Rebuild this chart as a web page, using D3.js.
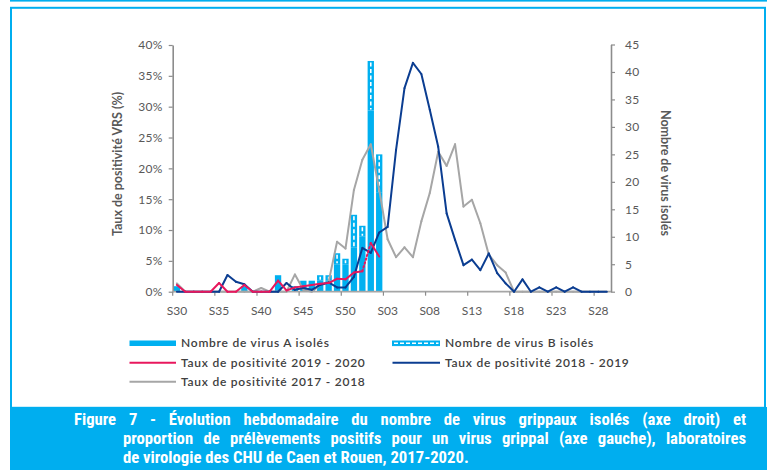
<!DOCTYPE html>
<html><head><meta charset="utf-8">
<script src="https://cdn.jsdelivr.net/npm/d3@7"></script>
<style>
html,body{margin:0;padding:0;background:#fff;}
svg{display:block;}
</style></head>
<body>
<svg id="c" width="767" height="470"></svg>
<script>
// ---- data ----
const weeks = ["S30","S31","S32","S33","S34","S35","S36","S37","S38","S39","S40","S41","S42","S43","S44","S45","S46","S47","S48","S49","S50","S51","S52",
"S01","S02","S03","S04","S05","S06","S07","S08","S09","S10","S11","S12","S13","S14","S15","S16","S17","S18","S19","S20","S21","S22","S23","S24","S25","S26","S27","S28","S29"];
const virusA = [1,0,0,0,0,0,0,0,1,0,0,0,3,0,0,2,2,2,2,5,5,8,10,33,18,
null,null,null,null,null,null,null,null,null,null,null,null,null,null,null,null,null,null,null,null,null,null,null,null,null,null,null];
const virusB = [0,0,0,0,0,0,0,0,0,0,0,0,0,0,1,0,0,1,1,2,1,6,2,9,7,
null,null,null,null,null,null,null,null,null,null,null,null,null,null,null,null,null,null,null,null,null,null,null,null,null,null,null];
const taux1920 = [1.1,0,0,0,0,1.4,0,0,1.1,0,0,0,1.8,0.2,0.7,0.9,1.1,1.3,1.4,2.1,2.0,3.1,3.3,7.9,5.7,
null,null,null,null,null,null,null,null,null,null,null,null,null,null,null,null,null,null,null,null,null,null,null,null,null,null,null];
const taux1819 = [0,0,0,0,0,0,2.7,1.6,1.2,0,0,0,0,1.4,0.3,0.6,0.3,1.1,1.5,0.7,0.7,2.4,7.1,6.3,9.6,10.5,23,33,37.1,35.3,29.5,23.5,12.7,8.4,4.3,5.2,3.5,6.2,3.0,1.35,0,2.0,0,0.7,0,0.7,0,0.7,0,0,0,0];
const taux1718 = [1.35,0,0,0,0,0,0,0,0,0,0.6,0,0,0,2.8,0.3,0,1.1,1.6,8.1,7.0,16.5,21.4,23.9,16.5,8.5,5.6,7.2,5.6,11.4,16.0,22.7,20.4,23.9,13.8,14.9,11.1,6.0,4.3,3.1,0,0,0,0,0,0,0,0,0,0,0,0];
const leftTicks = [0,5,10,15,20,25,30,35,40];
const rightTicks = [0,5,10,15,20,25,30,35,40,45];
const xLabelWeeks = ["S30","S35","S40","S45","S50","S03","S08","S13","S18","S23","S28"];
const legendLabels = ["Nombre de virus A isolés","Nombre de virus B isolés","Taux de positivité 2019 - 2020","Taux de positivité 2018 - 2019","Taux de positivité 2017 - 2018"];
const leftTitle = "Taux de positivité VRS (%)";
const rightTitle = "Nombre de virus isolés";
const captionLines = [
 "Figure 7 - Évolution hebdomadaire du nombre de virus grippaux isolés (axe droit) et",
 "proportion de prélèvements positifs pour un virus grippal (axe gauche), laboratoires",
 "de virologie des CHU de Caen et Rouen, 2017-2020."];

// ---- styles ----
const BLUE = "#00B0F0", FRAME = "#00AEEF", RED = "#E8175D", NAVY = "#0B3D91", GRAY = "#A6A6A6", AXIS = "#8C8C8C", TXT = "#595959";
const FONT = "Lato, 'Liberation Sans', Arial, sans-serif";

const svg = d3.select("#c");

// frame
svg.append("rect").attr("x",10).attr("y",0).attr("width",757).attr("height",1.6).attr("fill",FRAME);
svg.append("rect").attr("x",11).attr("y",7.8).attr("width",754).attr("height",400).attr("fill","none").attr("stroke",FRAME).attr("stroke-width",2);

// scales
const x0 = 172.7, x1 = 611, yBase = 291.7, yTop = 45;
const x = d3.scaleBand().domain(weeks).range([x0,x1]).paddingInner(0.25).paddingOuter(0.125);
const step = x.step();
const cx = w => x(w) + x.bandwidth()/2;
const yL = d3.scaleLinear().domain([0,40]).range([yBase,yTop]);
const yR = d3.scaleLinear().domain([0,45]).range([yBase,yTop-0.5]);

// bars
const g = svg.append("g");
weeks.forEach((w,i)=>{
  const a = virusA[i]||0, b = virusB[i]||0;
  if (a>0) g.append("rect").attr("x",x(w)).attr("y",yR(a)).attr("width",x.bandwidth()).attr("height",yR(0)-yR(a)).attr("fill",BLUE);
  if (b>0) {
    g.append("rect").attr("x",x(w)).attr("y",yR(a+b)).attr("width",x.bandwidth()).attr("height",yR(a)-yR(a+b)).attr("fill",BLUE);
    g.append("line").attr("x1",cx(w)).attr("x2",cx(w)).attr("y1",yR(a+b)+1.5).attr("y2",yR(a)-1)
      .attr("stroke","#fff").attr("stroke-width",1.6).attr("stroke-dasharray","4,2.5");
  }
});

// axes
const axL = svg.append("g").attr("transform",`translate(${x0},0)`)
  .call(d3.axisLeft(yL).tickValues(leftTicks).tickFormat(d=>d+"%").tickSize(4).tickSizeOuter(0).tickPadding(6));
const axR = svg.append("g").attr("transform",`translate(${x1},0)`)
  .call(d3.axisRight(yR).tickValues(rightTicks).tickSize(4).tickSizeOuter(0).tickPadding(10));
[axL,axR].forEach(a=>{
  a.select(".domain").attr("stroke",AXIS).attr("stroke-width",1.6);
  a.selectAll(".tick line").attr("stroke",AXIS).attr("stroke-width",1.2);
  a.selectAll("text").attr("fill",TXT).style("font-family",FONT).style("font-size","12px").style("letter-spacing","0.3px");
});
// x axis
svg.append("line").attr("x1",x0).attr("x2",x1).attr("y1",yBase).attr("y2",yBase).attr("stroke","#A6A6A6").attr("stroke-width",1.8);
const axX = svg.append("g").attr("transform",`translate(0,${yBase})`)
  .call(d3.axisBottom(x).tickValues(xLabelWeeks).tickSize(0).tickPadding(15));
axX.select(".domain").remove();
axX.selectAll("text").attr("fill",TXT).style("font-family",FONT).style("font-size","12px");
xLabelWeeks.forEach(w=>{
  const bx = x(w) - (step - x.bandwidth())/2;
  svg.append("line").attr("x1",bx).attr("x2",bx).attr("y1",yBase).attr("y2",yBase+4).attr("stroke",AXIS).attr("stroke-width",1.2);
});

// lines
function drawLine(vals,color,dashSeg){
  const pts = weeks.map((w,i)=>({x:cx(w),y:vals[i]}));
  for (let i=0;i<pts.length-1;i++){
    if (pts[i].y==null || pts[i+1].y==null) continue;
    svg.append("line").attr("x1",pts[i].x).attr("y1",yL(pts[i].y)).attr("x2",pts[i+1].x).attr("y2",yL(pts[i+1].y))
      .attr("stroke",color).attr("stroke-width",2).attr("stroke-linecap","round")
      .attr("stroke-dasharray", dashSeg===i ? "1.5,2.5" : null);
  }
}
drawLine(taux1718,GRAY);
drawLine(taux1819,NAVY);
drawLine(taux1920,RED, weeks.indexOf("S52"));

// axis titles
svg.append("text").attr("transform","translate(122,164) rotate(-90)").attr("text-anchor","middle")
  .attr("fill",TXT).style("font-family",FONT).style("font-size","12.5px").style("font-weight","bold").text(leftTitle);
svg.append("text").attr("transform","translate(661,173) rotate(90)").attr("text-anchor","middle")
  .attr("fill",TXT).style("font-family",FONT).style("font-size","12.5px").style("font-weight","bold").text(rightTitle);

// legend
const lg = svg.append("g");
const LTXT = "#404040";
function legText(tx,ty,s){ lg.append("text").attr("x",tx).attr("y",ty+4).attr("fill",LTXT).style("font-family",FONT).style("font-size","12px").style("font-weight","600").style("letter-spacing","0.75px").text(s); }
// A
lg.append("rect").attr("x",129.5).attr("y",340.5).attr("width",46.5).attr("height",5.5).attr("fill",BLUE);
legText(181,343.3,legendLabels[0]);
// B
lg.append("rect").attr("x",392.5).attr("y",341).attr("width",47).attr("height",4.6).attr("fill",BLUE).attr("stroke",BLUE).attr("stroke-width",1);
lg.append("line").attr("x1",394).attr("x2",438.5).attr("y1",343.3).attr("y2",343.3).attr("stroke","#fff").attr("stroke-width",1.6).attr("stroke-dasharray","4,2");
legText(445,343.3,legendLabels[1]);
// red
lg.append("line").attr("x1",129.5).attr("x2",176).attr("y1",362.7).attr("y2",362.7).attr("stroke",RED).attr("stroke-width",2);
legText(181,362.7,legendLabels[2]);
// navy
lg.append("line").attr("x1",392.5).attr("x2",440).attr("y1",362.7).attr("y2",362.7).attr("stroke",NAVY).attr("stroke-width",2);
legText(445,362.7,legendLabels[3]);
// gray
lg.append("line").attr("x1",129.5).attr("x2",176).attr("y1",381.7).attr("y2",381.7).attr("stroke",GRAY).attr("stroke-width",2);
legText(181,381.7,legendLabels[4]);

// caption
svg.append("rect").attr("x",10).attr("y",407).attr("width",757).attr("height",63).attr("fill",FRAME);
const capFont = "'Liberation Sans Narrow','Arial Narrow','Roboto Condensed','Liberation Sans',Arial,sans-serif";
const capSpecs = [{x:74,y:424.5,w:672,just:true},{x:123,y:443.5,w:623,just:true},{x:123,y:462.5,w:346,just:false}];
// size the font so that the last (unjustified) line has its reference width
const probe = svg.append("text").style("font-family",capFont).style("font-size","15px").style("font-weight","bold").text(captionLines[2]);
const fs = 15*capSpecs[2].w/probe.node().getComputedTextLength();
probe.remove();
captionLines.forEach((s,i)=>{
  const sp = capSpecs[i];
  const t = svg.append("text").attr("x",sp.x).attr("y",sp.y).attr("fill","#fff")
    .style("font-family",capFont).style("font-size",fs.toFixed(2)+"px").style("font-weight","bold").text(s);
  const len = t.node().getComputedTextLength();
  if (sp.just && len < sp.w) {
    const n = (s.match(/ /g)||[]).length;
    t.attr("word-spacing", ((sp.w-len)/n).toFixed(2)+"px");
  } else if (Math.abs(len-sp.w)>3) {
    t.attr("textLength",sp.w).attr("lengthAdjust","spacingAndGlyphs");
  }
});
</script>
</body></html>
